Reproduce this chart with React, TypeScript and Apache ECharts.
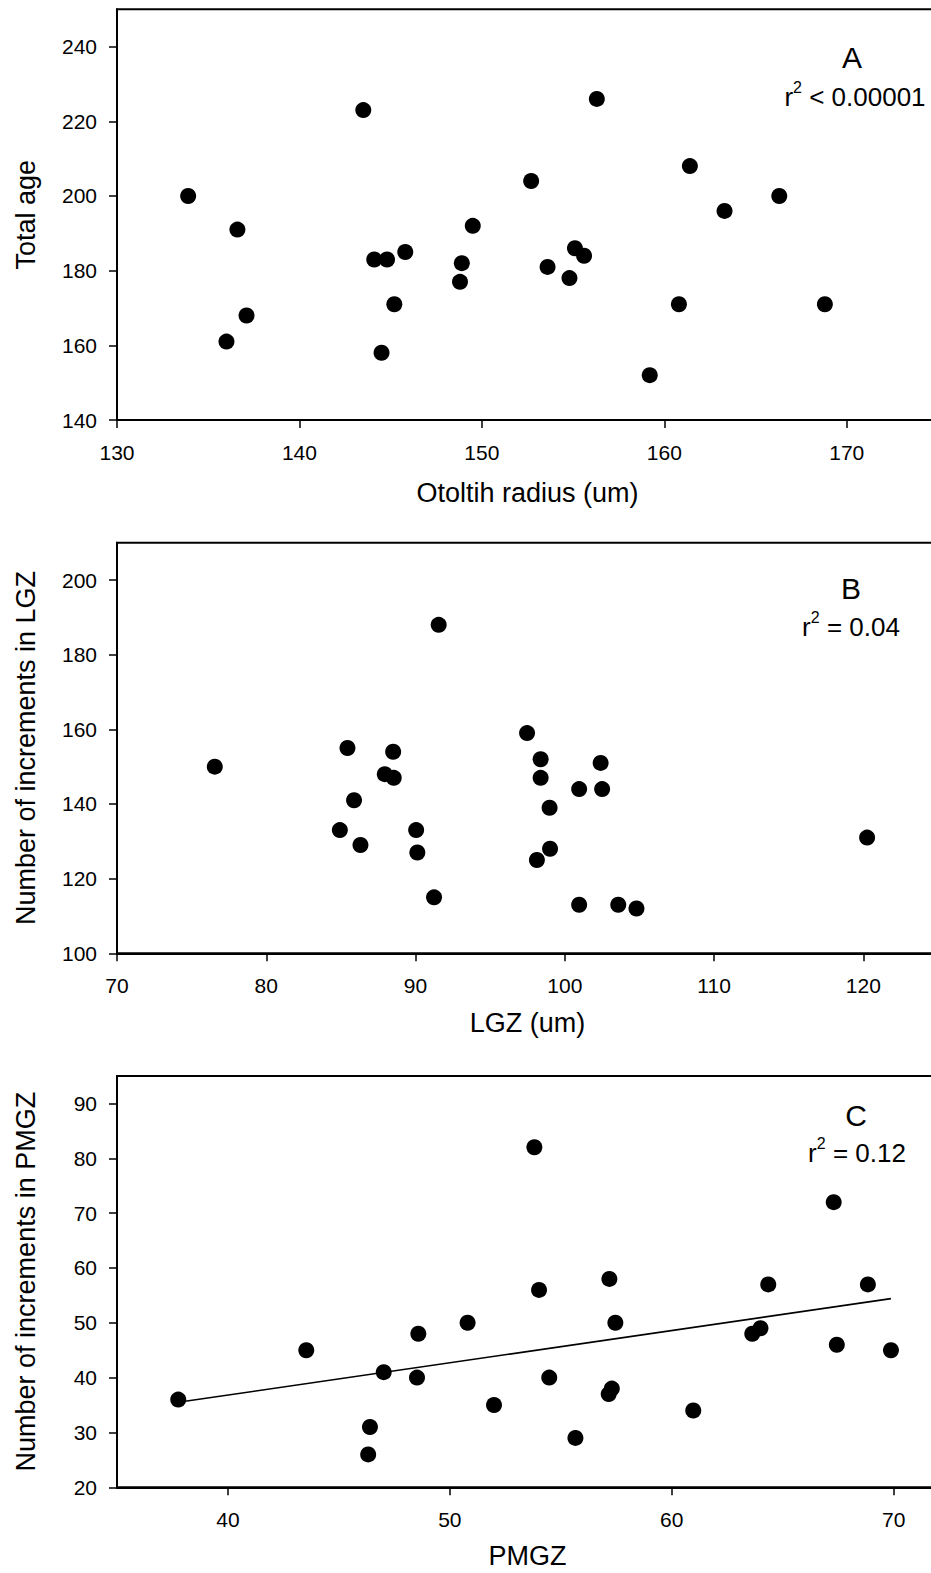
import React, { useEffect, useRef } from "react";
import * as echarts from "echarts";

// Panel A: Total age vs Otolith radius
const aX = [133.9, 143.5, 156.3, 152.7, 161.4, 166.3, 136.6, 163.3, 137.1, 136.0, 144.1, 144.8, 145.8, 145.2, 144.5, 149.5, 148.9, 148.8, 153.6, 155.1, 155.6, 154.8, 159.2, 160.8, 168.8];
const aY = [200, 223, 226, 204, 208, 200, 191, 196, 168, 161, 183, 183, 185, 171, 158, 192, 182, 177, 181, 186, 184, 178, 152, 171, 171];

// Panel B: Number of increments in LGZ vs LGZ
const bX = [76.55, 91.55, 85.44, 88.5, 97.47, 98.38, 102.4, 87.94, 88.54, 98.38, 100.96, 102.5, 85.88, 98.98, 84.93, 90.04, 86.31, 90.12, 99.01, 98.13, 120.25, 91.24, 100.96, 103.58, 104.8];
const bY = [150, 188, 155, 154, 159, 152, 151, 148, 147, 147, 144, 144, 141, 139, 133, 133, 129, 127, 128, 125, 131, 115, 113, 113, 112];

// Panel C: Number of increments in PMGZ vs PMGZ
const cX = [53.81, 67.3, 54.02, 57.19, 64.35, 68.84, 37.76, 43.53, 47.02, 48.58, 48.52, 50.8, 46.4, 46.32, 51.99, 54.48, 55.66, 57.46, 57.3, 57.16, 60.97, 63.63, 64.0, 67.44, 69.88];
const cY = [82, 72, 56, 58, 57, 57, 36, 45, 41, 48, 40, 50, 31, 26, 35, 40, 29, 50, 38, 37, 34, 48, 49, 46, 45];

// Regression line in panel C (end points)
const cFitX = [37.76, 69.88];
const cFitY = [35.5, 54.4];

// Tick values
const aXTicks = [130, 140, 150, 160, 170];
const aYTicks = [140, 160, 180, 200, 220, 240];
const bXTicks = [70, 80, 90, 100, 110, 120];
const bYTicks = [100, 120, 140, 160, 180, 200];
const cXTicks = [40, 50, 60, 70];
const cYTicks = [20, 30, 40, 50, 60, 70, 80, 90];

const FONT = '"Liberation Sans", Arial, Helvetica, sans-serif';

const zip = (xs: number[], ys: number[]) => xs.map((x, i) => [x, ys[i]]);

function xAxis(gridIndex: number, min: number, max: number, ticks: number[], name: string, nameGap: number) {
  return {
    type: "value",
    gridIndex,
    min,
    max,
    name,
    nameLocation: "middle",
    nameGap,
    nameTextStyle: { fontFamily: FONT, fontSize: 27, color: "#000" },
    axisLine: { show: true, onZero: false, lineStyle: { color: "#000", width: 2 } },
    axisTick: { show: true, inside: false, length: 8, lineStyle: { color: "#000", width: 1.5 }, customValues: ticks },
    axisLabel: { show: true, fontFamily: FONT, fontSize: 21, color: "#000", margin: 22, customValues: ticks },
    splitLine: { show: false },
  };
}

function yAxis(gridIndex: number, min: number, max: number, ticks: number[], name: string, nameGap: number) {
  return {
    type: "value",
    gridIndex,
    min,
    max,
    name,
    nameLocation: "middle",
    nameGap,
    nameRotate: 90,
    nameTextStyle: { fontFamily: FONT, fontSize: 27, color: "#000" },
    axisLine: { show: true, onZero: false, lineStyle: { color: "#000", width: 2 } },
    axisTick: { show: true, inside: false, length: 8, lineStyle: { color: "#000", width: 1.5 }, customValues: ticks },
    axisLabel: { show: true, fontFamily: FONT, fontSize: 21, color: "#000", margin: 20, customValues: ticks },
    splitLine: { show: false },
  };
}

function gridBox(top: number, height: number) {
  return {
    left: 117,
    top,
    width: 821,
    height,
    show: true,
    borderColor: "#000",
    borderWidth: 2,
    backgroundColor: "transparent",
    containLabel: false,
    outerBoundsMode: "none",
  };
}

function scatter(idx: number, xs: number[], ys: number[]) {
  return {
    type: "scatter",
    xAxisIndex: idx,
    yAxisIndex: idx,
    data: zip(xs, ys),
    symbol: "circle",
    symbolSize: 16,
    itemStyle: { color: "#000", opacity: 1 },
    silent: true,
  };
}

function label(x: number, y: number, letter: string) {
  return {
    type: "text",
    x,
    y,
    style: { text: letter, fontFamily: FONT, fontSize: 30, fill: "#000", align: "center", verticalAlign: "middle" },
  };
}

function r2(x: number, y: number, rest: string) {
  return {
    type: "text",
    x,
    y,
    style: {
      text: "{m|r}{s|2}{m|" + rest + "}",
      align: "center",
      verticalAlign: "middle",
      fill: "#000",
      rich: {
        m: { fontFamily: FONT, fontSize: 26, fill: "#000" },
        s: { fontFamily: FONT, fontSize: 16, fill: "#000", padding: [0, 0, 20, 0] },
      },
    },
  };
}

export default function App() {
  const ref = useRef<HTMLDivElement>(null);
  useEffect(() => {
    document.body.style.margin = "0";
    const chart = echarts.init(ref.current!, null, { renderer: "svg" });
    chart.setOption({
      animation: false,
      backgroundColor: "#fff",
      grid: [gridBox(9.3, 410.7), gridBox(542.7, 410.6), gridBox(1076, 411.3)],
      xAxis: [
        xAxis(0, 130, 175, aXTicks, "Otoltih radius (um)", 59),
        xAxis(1, 70, 125, bXTicks, "LGZ (um)", 56),
        xAxis(2, 35, 72, cXTicks, "PMGZ", 55),
      ],
      yAxis: [
        yAxis(0, 140, 250, aYTicks, "Total age", 78),
        yAxis(1, 100, 210, bYTicks, "Number of increments in LGZ", 78),
        yAxis(2, 20, 95, cYTicks, "Number of increments in PMGZ", 78),
      ],
      series: [
        scatter(0, aX, aY),
        scatter(1, bX, bY),
        scatter(2, cX, cY),
        {
          type: "line",
          xAxisIndex: 2,
          yAxisIndex: 2,
          data: zip(cFitX, cFitY),
          symbol: "none",
          lineStyle: { color: "#000", width: 1.6 },
          silent: true,
          z: 1,
        },
      ],
      graphic: [
        label(852, 57, "A"),
        r2(855, 97, " < 0.00001"),
        label(851, 588, "B"),
        r2(851, 627, " = 0.04"),
        label(856, 1115, "C"),
        r2(857, 1153, " = 0.12"),
      ],
    });
    return () => chart.dispose();
  }, []);
  return <div ref={ref} style={{ width: 931, height: 1573 }} />;
}
